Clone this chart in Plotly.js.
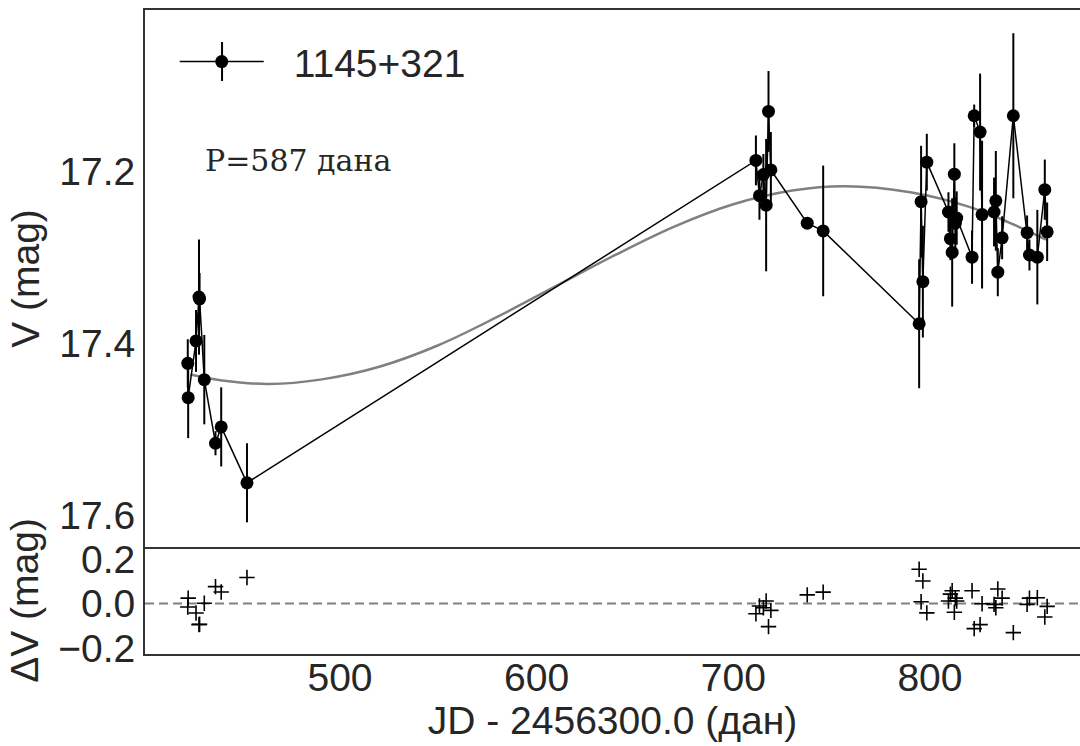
<!DOCTYPE html>
<html>
<head>
<meta charset="utf-8">
<script src="https://cdn.plot.ly/plotly-3.0.1.min.js"></script>
<style>html,body{margin:0;padding:0;background:#fff;}#chart{width:1080px;height:746px;}</style>
</head>
<body>
<div id="chart"></div>
<script>
// Observations (JD - 2456300.0, days)
const jd = [422.6, 422.8, 426.8, 428.3, 428.6, 431.0, 436.7, 439.6, 452.7,
  711.5, 713.3, 715.3, 716.7, 717.9, 719.1, 737.6, 745.7,
  794.5, 795.5, 796.4, 798.4, 809.4, 810.4, 811.3, 812.4, 812.9, 813.6, 821.4, 822.5,
  825.5, 826.5, 832.6, 833.5, 834.5, 836.7, 842.4, 849.4, 850.6, 854.6, 858.4, 859.6];
// V magnitude
const vmag = [17.423, 17.463, 17.397, 17.346, 17.348, 17.442, 17.516, 17.497, 17.562,
  17.187, 17.228, 17.2035, 17.239, 17.130, 17.198, 17.260, 17.269,
  17.377, 17.235, 17.328, 17.189, 17.247, 17.278, 17.294, 17.203, 17.260, 17.254, 17.2995, 17.135,
  17.154, 17.250, 17.247, 17.234, 17.317, 17.277, 17.135, 17.271, 17.297, 17.2995, 17.221, 17.270];
// V errors
const verr = [0.028, 0.047, 0.036, 0.067, 0.030, 0.052, 0.014, 0.046, 0.046,
  0.029, 0.028, 0.024, 0.077, 0.047, 0.044, 0.005, 0.076,
  0.075, 0.065, 0.065, 0.033, 0.023, 0.025, 0.063, 0.036, 0.030, 0.031, 0.031, 0.013,
  0.068, 0.086, 0.040, 0.058, 0.028, 0.025, 0.096, 0.020, 0.018, 0.055, 0.035, 0.034];
// Residuals dV (mag)
const resid = [-0.016, 0.024, -0.043, -0.095, -0.093, 0.001, 0.076, 0.052, 0.117,
  -0.046, -0.011, -0.019, 0.011, -0.104, -0.031, 0.039, 0.051,
  0.154, 0.008, 0.101, -0.042, 0.011, 0.042, 0.057, -0.039, 0.024, 0.011, 0.057, -0.113,
  -0.095, -0.001, -0.004, -0.019, 0.065, 0.024, -0.131, -0.004, 0.024, 0.026, -0.061, -0.013];
// Fitted sinusoid (P = 587 d)
const fitJD = [424, 440, 464, 490, 520, 550, 580, 610, 640, 670, 700, 730, 757, 790, 820, 840, 859];
const fitV  = [17.436, 17.443, 17.447, 17.442, 17.427, 17.402, 17.369, 17.333, 17.297, 17.264,
  17.238, 17.222, 17.217, 17.224, 17.241, 17.259, 17.279];

const seriesName = '1145+321';
const periodLabel = 'P=587 дана';
const xTitle = 'JD - 2456300.0 (дан)';
const yTitle = 'V (mag)';
const y2Title = 'ΔV (mag)';
const xTicks = [500, 600, 700, 800];
const yTicks = [17.2, 17.4, 17.6];
const y2Ticks = [-0.2, 0.0, 0.2];
const y2TickText = ['\u22120.2', '0.0', '0.2'];

const txt = '#262626';
const sans = 'Liberation Sans, Arial, sans-serif';
const fs = 39;

const traces = [
  {x: fitJD, y: fitV, type: 'scatter', mode: 'lines', line: {color: '#808080', width: 2.5, shape: 'spline'},
   xaxis: 'x', yaxis: 'y', showlegend: false, hoverinfo: 'skip'},
  {x: jd, y: vmag, type: 'scatter', mode: 'lines+markers', name: '\u00a0\u00a0\u200a' + seriesName,
   line: {color: '#000', width: 1.5}, marker: {color: '#000', size: 13},
   error_y: {type: 'data', array: verr, visible: true, color: '#000', thickness: 2, width: 0},
   xaxis: 'x', yaxis: 'y', showlegend: true},
  {x: jd, y: resid, type: 'scatter', mode: 'markers',
   marker: {symbol: 'cross-thin', size: 11, line: {color: '#000', width: 1.6}},
   xaxis: 'x2', yaxis: 'y2', showlegend: false}
];

const axisCommon = {showline: true, mirror: true, linecolor: '#333', linewidth: 2,
  showgrid: false, zeroline: false, ticks: '', tickfont: {family: sans, size: fs, color: txt}};
const split = 107 / 644;

const layout = {
  width: 1080, height: 746,
  margin: {l: 145, r: 0, t: 10, b: 92},
  paper_bgcolor: '#fff', plot_bgcolor: '#fff',
  font: {family: sans, color: txt},
  showlegend: true,
  legend: {x: 0.0318, y: 0.9693, xanchor: 'left', yanchor: 'top', bgcolor: 'rgba(0,0,0,0)',
    font: {family: sans, size: fs, color: txt}, itemwidth: 84},
  xaxis: Object.assign({}, axisCommon, {domain: [0, 1], anchor: 'y', range: [400.85, 876.3],
    showticklabels: false, tickvals: xTicks, matches: 'x2'}),
  yaxis: Object.assign({}, axisCommon, {domain: [split, 1], anchor: 'x', range: [17.6367, 17.012],
    tickvals: yTicks, ticktext: yTicks.map(v => v.toFixed(1)),
    title: {text: yTitle, font: {family: sans, size: fs, color: txt}, standoff: 8}}),
  xaxis2: Object.assign({}, axisCommon, {domain: [0, 1], anchor: 'y2', range: [400.85, 876.3],
    mirror: false, tickvals: xTicks, ticktext: xTicks.map(String), ticklabelstandoff: -12,
    title: {text: xTitle, font: {family: sans, size: fs, color: txt}, standoff: 4}}),
  yaxis2: Object.assign({}, axisCommon, {domain: [0, split], anchor: 'x2', range: [-0.227, 0.254],
    tickvals: y2Ticks, ticktext: y2TickText,
    title: {text: y2Title, font: {family: sans, size: fs, color: txt}, standoff: 8}}),
  shapes: [
    {type: 'line', xref: 'x2 domain', yref: 'y2', x0: 0, x1: 1, y0: 0, y1: 0,
     line: {color: '#808080', width: 2, dash: '9px,5px'}, layer: 'below'},
    // vertical error-bar stroke of the legend symbol
    {type: 'line', xref: 'paper', yref: 'paper', x0: 0.0824, x1: 0.0824, y0: 0.8898, y1: 0.9503,
     line: {color: '#000', width: 2}}
  ],
  annotations: [
    {text: periodLabel, xref: 'paper', yref: 'paper', x: 0.062, y: 0.766, xanchor: 'left', yanchor: 'middle',
     showarrow: false, font: {family: 'DejaVu Serif, serif', size: 30, color: txt}}
  ]
};

Plotly.newPlot('chart', traces, layout, {displayModeBar: false, staticPlot: true});
</script>
</body>
</html>
